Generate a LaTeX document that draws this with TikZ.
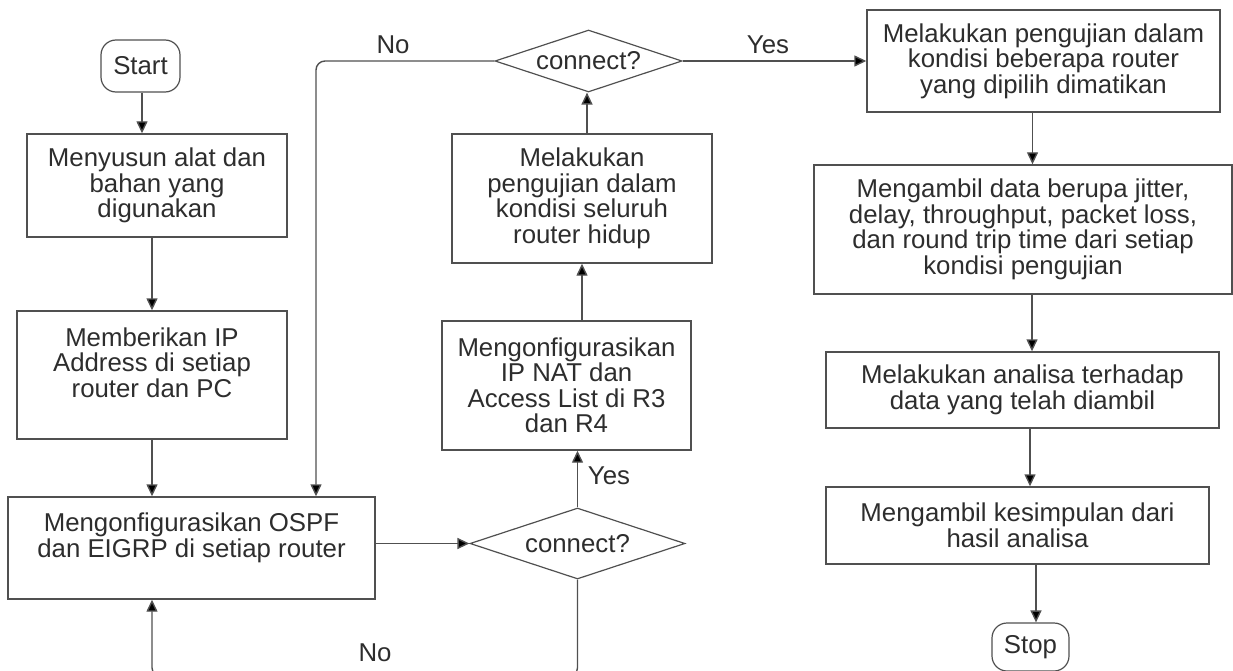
\documentclass[tikz,border=0pt]{standalone}
\usepackage{fontspec}
\setmainfont{Liberation Sans}
\usetikzlibrary{arrows.meta,shapes.geometric,calc}
\definecolor{linec}{RGB}{80,80,80}
\definecolor{txtc}{RGB}{45,45,45}
\begin{document}
\begin{tikzpicture}[x=1pt,y=-1pt,
  every node/.style={font=\fontsize{25.8}{25.5}\selectfont, text=txtc},
  procbox/.style={draw=linec, line width=1.4pt, rectangle, align=center, inner sep=0pt},
  termbox/.style={draw=linec, line width=1.2pt, rectangle, rounded corners=15pt, inner sep=0pt},
  decbox/.style={draw=linec, line width=1.2pt, diamond, inner sep=0pt},
  arr/.style={draw=linec, line width=1.4pt, -{Triangle[length=12pt,width=11pt,fill=black]}},
  lbl/.style={inner sep=0pt}
]
\useasboundingbox (0,0) rectangle (1233,671);
% terminals
\node[termbox, minimum width=79pt, minimum height=52pt] (start) at (140.5,66) {Start};
\node[termbox, minimum width=77pt, minimum height=48pt] (stop) at (1030.5,647) {Stop};
% left column
\node[procbox, minimum width=260pt, minimum height=103pt] (b1) at (157,185.5) {Menyusun alat dan\\bahan yang\\digunakan};
\node[procbox, minimum width=270pt, minimum height=128pt] (b2) at (152,375) {Memberikan IP\\Address di setiap\\router dan PC\\\mbox{}};
\node[procbox, minimum width=367pt, minimum height=102pt] (b3) at (191.5,548) {Mengonfigurasikan OSPF\\dan EIGRP di setiap router\\\mbox{}};
% middle column
\node[decbox, minimum width=215pt, minimum height=71pt] (d2) at (577.5,543.5) {};
\node[lbl] (d2t) at (d2) {connect?};
\node[procbox, minimum width=249pt, minimum height=129pt] (b4) at (566.5,385.5) {Mengonfigurasikan\\IP NAT dan\\Access List di R3\\dan R4};
\node[procbox, minimum width=260pt, minimum height=129pt] (b5) at (582,198.5) {Melakukan\\pengujian dalam\\kondisi seluruh\\router hidup};
\node[decbox, minimum width=187pt, minimum height=62pt] (d1) at (588.5,61) {};
\node[lbl] (d1t) at (d1) {connect?};
% right column
\node[procbox, minimum width=353pt, minimum height=102pt] (b6) at (1043.5,61) {Melakukan pengujian dalam\\kondisi beberapa router\\yang dipilih dimatikan};
\node[procbox, minimum width=418pt, minimum height=129pt] (b7) at (1023,229.5) {Mengambil data berupa jitter,\\delay, throughput, packet loss,\\dan round trip time dari setiap\\kondisi pengujian};
\node[procbox, minimum width=393pt, minimum height=76pt] (b8) at (1022.5,390) {Melakukan analisa terhadap\\data yang telah diambil};
\node[procbox, minimum width=383pt, minimum height=77pt] (b9) at (1017.5,525.5) {Mengambil kesimpulan dari\\hasil analisa};
% connectors
\draw[arr] ([xshift=1.5pt]start.south) -- ([xshift=1.5pt]start.south |- b1.north);
\draw[arr] (b2.north |- b1.south) -- (b2.north);
\draw[arr] (b2.south) -- (b2.south |- b3.north);
\draw[arr] (b3.east |- d2.west) -- (d2.west);
\draw[arr] (d2.north) -- (d2.north |- b4.south);
\draw[arr] (b5.south |- b4.north) -- (b5.south);
\draw[arr] ([xshift=-1.5pt]d1.south |- b5.north) -- ([xshift=-1.5pt]d1.south);
\draw[arr] (d1.east) -- (d1.east -| b6.west);
\draw[arr, rounded corners=9pt] (d1.west) -| ([xshift=124.5pt]b3.north);
\draw[arr, rounded corners=9pt] (d2.south) -- ++(0,97) -| (b2.south |- b3.south);
\draw[arr] ([xshift=-11pt]b6.south) -- ([xshift=-11pt]b6.south |- b7.north);
\draw[arr] ([xshift=9pt]b7.south) -- ([xshift=9pt]b7.south |- b8.north);
\draw[arr] ([xshift=7.5pt]b8.south) -- ([xshift=7.5pt]b8.south |- b9.north);
\draw[arr] ([xshift=18.5pt]b9.south) -- ([xshift=18.5pt]b9.south |- stop.north);
% labels
\node[lbl] (lno1) at (393,45) {No};
\node[lbl] (lyes1) at (768,45) {Yes};
\node[lbl] (lyes2) at (609,476) {Yes};
\node[lbl] (lno2) at (375,653) {No};
\end{tikzpicture}
\end{document}
